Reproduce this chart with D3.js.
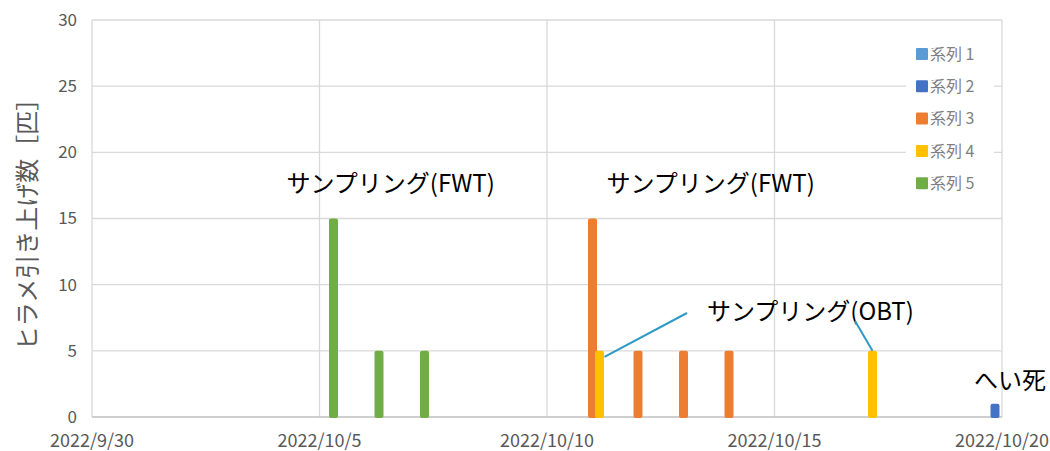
<!DOCTYPE html>
<html>
<head>
<meta charset="utf-8">
<script src="https://cdn.jsdelivr.net/npm/d3@7"></script>
<style>
  body { margin: 0; background: #fff; }
  text { font-family: "Noto Sans CJK JP", "Noto Sans", sans-serif; }
</style>
</head>
<body>
<div id="chart"></div>
<script>
// series names and colours
var seriesNames = ["系列 1", "系列 2", "系列 3", "系列 4", "系列 5"];
var seriesColors = ["#5b9bd5", "#4472c4", "#ed7d31", "#ffc000", "#70ad47"];

// values per series: [date, count]
var series1 = [];
var series2 = [["2022-10-20", 1]];
var series3 = [["2022-10-11", 15], ["2022-10-12", 5], ["2022-10-13", 5], ["2022-10-14", 5]];
var series4 = [["2022-10-11", 5], ["2022-10-17", 5]];
var series5 = [["2022-10-05", 15], ["2022-10-06", 5], ["2022-10-07", 5]];

var xTicks = ["2022-09-30", "2022-10-05", "2022-10-10", "2022-10-15", "2022-10-20"];
var yTicks = [0, 5, 10, 15, 20, 25, 30];

var notes = [
  { text: "サンプリング(FWT)", date: "2022-10-05", value: 17, dx: -33 },
  { text: "サンプリング(FWT)", date: "2022-10-11", value: 17, dx: 14 }
];

var width = 1050, height = 451;
var margin = { top: 20, right: 48, bottom: 34, left: 92 };

var parse = d3.timeParse("%Y-%m-%d");
var fmt = function(d) { return d3.timeFormat("%Y/%-m/%-d")(d); };

var svg = d3.select("#chart").append("svg")
  .attr("width", width)
  .attr("height", height);

var x = d3.scaleTime()
  .domain([parse("2022-09-30"), parse("2022-10-20")])
  .range([margin.left, width - margin.right]);

var y = d3.scaleLinear()
  .domain([0, 30])
  .range([height - margin.bottom, margin.top]);

// slot inside each day for every series
var slot = d3.scaleBand()
  .domain(seriesNames)
  .range([-17.5, 17.5]);

// grid
svg.append("g")
  .selectAll("line.h")
  .data(yTicks.slice(1))
  .enter().append("line")
  .attr("x1", x.range()[0]).attr("x2", x.range()[1])
  .attr("y1", function(d) { return y(d); })
  .attr("y2", function(d) { return y(d); })
  .attr("stroke", "#d9d9d9").attr("stroke-width", 1.3);

svg.append("g")
  .selectAll("line.v")
  .data(xTicks)
  .enter().append("line")
  .attr("x1", function(d) { return x(parse(d)); })
  .attr("x2", function(d) { return x(parse(d)); })
  .attr("y1", y(0)).attr("y2", y(30))
  .attr("stroke", "#d9d9d9").attr("stroke-width", 1.3);

// bottom axis line
svg.append("line")
  .attr("x1", x.range()[0]).attr("x2", x.range()[1])
  .attr("y1", y(0)).attr("y2", y(0))
  .attr("stroke", "#bfbfbf").attr("stroke-width", 1.5);

// tick labels
svg.append("g")
  .selectAll("text")
  .data(yTicks)
  .enter().append("text")
  .attr("x", margin.left - 15)
  .attr("y", function(d) { return y(d); })
  .attr("dy", "0.35em")
  .attr("text-anchor", "end")
  .attr("font-size", 17)
  .attr("fill", "#595959")
  .text(function(d) { return d; });

svg.append("g")
  .selectAll("text")
  .data(xTicks)
  .enter().append("text")
  .attr("x", function(d) { return x(parse(d)); })
  .attr("y", height - 4)
  .attr("text-anchor", "middle")
  .attr("font-size", 18)
  .attr("fill", "#595959")
  .text(function(d) { return fmt(parse(d)); });

// y title
svg.append("text")
  .attr("transform", "translate(36," + (y(15)) + ") rotate(-90)")
  .attr("text-anchor", "middle")
  .attr("font-size", 24)
  .attr("fill", "#595959")
  .text("ヒラメ引き上げ数［匹］");

// legend
var legend = svg.append("g");
legend.append("rect")
  .attr("x", 906).attr("y", 38).attr("width", 88).attr("height", 160)
  .attr("fill", "#fff");
var li = legend.selectAll("g.item")
  .data(seriesNames)
  .enter().append("g")
  .attr("transform", function(d, i) { return "translate(916," + (54 + i * 32.3) + ")"; });
li.append("rect")
  .attr("x", 0).attr("y", -6).attr("width", 12).attr("height", 12)
  .attr("rx", 1)
  .attr("fill", function(d, i) { return seriesColors[i]; });
li.append("text")
  .attr("x", 14).attr("dy", "0.35em")
  .attr("font-size", 16)
  .attr("fill", "#7f7f7f")
  .text(function(d) { return d; });

// bars
var allSeries = [series1, series2, series3, series4, series5];
allSeries.forEach(function(s, i) {
  svg.append("g")
    .selectAll("rect")
    .data(s)
    .enter().append("rect")
    .attr("x", function(d) { return x(parse(d[0])) + slot(seriesNames[i]) + slot.bandwidth() / 2 - 4.5; })
    .attr("y", function(d) { return y(d[1]); })
    .attr("width", 9)
    .attr("height", function(d) { return y(0) - y(d[1]) + 1; })
    .attr("rx", 2)
    .attr("fill", seriesColors[i]);
});

// annotations
svg.append("g")
  .selectAll("text")
  .data(notes)
  .enter().append("text")
  .attr("x", function(d) { return x(parse(d.date)) + d.dx; })
  .attr("y", function(d) { return y(d.value); })
  .attr("font-size", 24)
  .attr("fill", "#000")
  .text(function(d) { return d.text; });

svg.append("text")
  .attr("x", 707).attr("y", 320)
  .attr("font-size", 24)
  .attr("fill", "#000")
  .text("サンプリング(OBT)");

svg.append("text")
  .attr("x", 974).attr("y", 389)
  .attr("font-size", 24)
  .attr("fill", "#000")
  .text("へい死");

// callout lines
var calloutColor = "#2e9bc6";
svg.append("line")
  .attr("x1", 687).attr("y1", 313)
  .attr("x2", x(parse("2022-10-11")) + 12).attr("y2", y(5) + 6)
  .attr("stroke", calloutColor).attr("stroke-width", 2);
svg.append("line")
  .attr("x1", 855).attr("y1", 321)
  .attr("x2", x(parse("2022-10-17")) + 7).attr("y2", y(5))
  .attr("stroke", calloutColor).attr("stroke-width", 2);
</script>
</body>
</html>
